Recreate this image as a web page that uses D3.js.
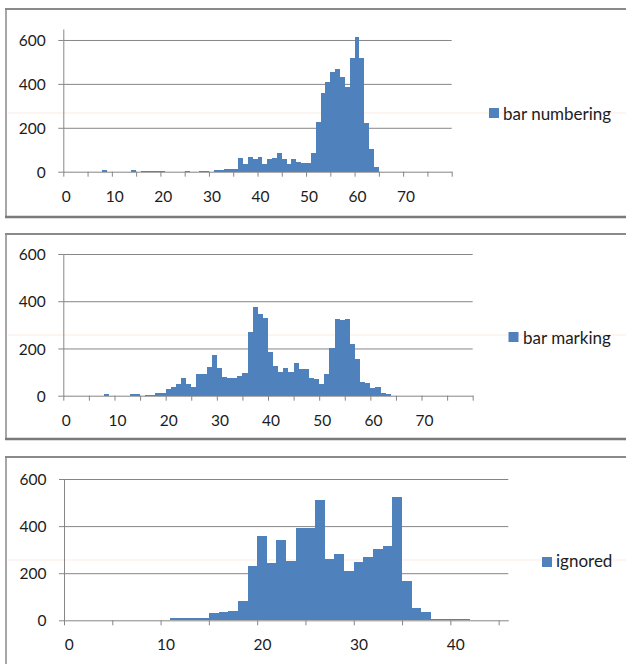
<!DOCTYPE html>
<html>
<head>
<meta charset="utf-8">
<script src="https://cdn.jsdelivr.net/npm/d3@7/dist/d3.min.js"></script>
<style>
  body { margin: 0; background: #fff; }
  svg { display: block; }
  text { font-family: Lato, "Open Sans", sans-serif; fill: #1c1c1c; }
</style>
</head>
<body>
<script>
// Histogram counts per bin (bin index = position on the category axis)
const numberingCounts = [
  0, 0, 0, 0, 0, 0, 0, 0, 7, 0,
  0, 0, 0, 0, 6, 0, 5, 5, 5, 5,
  5, 0, 0, 0, 0, 5, 0, 0, 5, 5,
  0, 8, 8, 12, 12, 12, 61, 35, 68, 56,
  68, 35, 56, 64, 84, 56, 33, 56, 43, 38,
  38, 87, 225, 360, 410, 456, 466, 433, 384, 516,
  615, 516, 220, 102, 23, 0, 0, 0, 0, 0,
  0, 0, 0, 0, 0, 0, 0, 0, 0, 0
];
const markingCounts = [
  0, 0, 0, 0, 0, 0, 0, 0, 7, 0,
  0, 0, 0, 6, 6, 0, 5, 5, 10, 11,
  28, 38, 51, 73, 51, 38, 90, 90, 121, 172,
  119, 78, 73, 75, 85, 96, 270, 377, 344, 327,
  185, 127, 100, 116, 99, 138, 113, 113, 76, 70,
  48, 90, 203, 323, 320, 323, 219, 155, 59, 54,
  34, 38, 10, 8, 0, 0, 0, 0, 0, 0,
  0, 0, 0, 0, 0, 0, 0, 0, 0, 0
];
const ignoredCounts = [
  0, 0, 0, 0, 0, 0, 0, 0, 0, 0,
  0, 8, 8, 8, 11, 30, 34, 38, 82, 232,
  357, 245, 342, 252, 394, 394, 512, 261, 282, 211,
  246, 268, 303, 317, 522, 166, 52, 34, 7, 4,
  4, 4, 0, 0, 0, 0
];
const seriesNames = ["bar numbering", "bar marking", "ignored"];
const yTickValues = [0, 200, 400, 600];
const yAxisMax = [650, 600, 600];

const W = 626, H = 664;
const barColor = "#4f81bd";
const axisColor = "#868686";

const svg = d3.select("body").append("svg")
  .attr("width", W).attr("height", H);
svg.append("rect").attr("width", W).attr("height", H).attr("fill", "#fff");

// Layout of each chart window
const layouts = [
  { left: 63.3, right: 451.7, base: 171.7, top: 29,  frameTop: 9,   frameBottom: 217,
    legend: { x: 489, y: 108, tx: 503, ty: 119.5 }, band: 113 },
  { left: 63.3, right: 472.7, base: 395.7, top: 254, frameTop: 234, frameBottom: 439,
    legend: { x: 508.5, y: 332, tx: 523, ty: 343.5 }, band: 335 },
  { left: 64,   right: 508.3, base: 620.3, top: 479, frameTop: 457, frameBottom: null,
    legend: { x: 542, y: 557, tx: 556, ty: 566.5 }, band: 560 }
];
const seriesCounts = [numberingCounts, markingCounts, ignoredCounts];

layouts.forEach((L, idx) => {
  const counts = seriesCounts[idx];
  const n = counts.length;
  const g = svg.append("g");

  // window frame
  g.append("line").attr("x1", 5).attr("x2", W).attr("y1", L.frameTop).attr("y2", L.frameTop)
    .attr("stroke", "#8a8a8a").attr("stroke-width", 2);
  g.append("line").attr("x1", 6).attr("x2", 6).attr("y1", L.frameTop)
    .attr("y2", L.frameBottom === null ? H : L.frameBottom)
    .attr("stroke", "#8a8a8a").attr("stroke-width", 1.5);
  if (L.frameBottom !== null) {
    g.append("line").attr("x1", 5).attr("x2", W).attr("y1", L.frameBottom).attr("y2", L.frameBottom)
      .attr("stroke", "#7a7a7a").attr("stroke-width", 2.5);
  }

  // very faint highlight band across the window
  g.append("line").attr("x1", 8).attr("x2", W).attr("y1", L.band).attr("y2", L.band)
    .attr("stroke", "#fdf5f2").attr("stroke-width", 2);

  const y = d3.scaleLinear().domain([0, yAxisMax[idx]]).range([L.base, L.top]);
  const xBand = d3.scaleBand().domain(d3.range(n)).range([L.left, L.right]).padding(0);
  const xLin = d3.scaleLinear().domain([0, n]).range([L.left, L.right]);

  // horizontal gridlines
  g.append("g")
    .attr("transform", `translate(${L.left},0)`)
    .call(d3.axisLeft(y).tickValues(yTickValues.filter(v => v > 0))
      .tickSize(-(L.right - L.left)).tickFormat(""))
    .call(a => a.select(".domain").remove())
    .call(a => a.selectAll("line").attr("stroke", axisColor).attr("stroke-width", 1));

  // bars, snapped to whole pixels so neighbouring bins join without seams
  const x0 = i => Math.round(xBand(i));
  const x1 = i => Math.round(xBand(i) + xBand.bandwidth());
  g.append("g").attr("shape-rendering", "crispEdges").selectAll("rect")
    .data(counts.map((v, i) => ({ i, v })).filter(d => d.v > 0))
    .join("rect")
    .attr("x", d => x0(d.i))
    .attr("width", d => x1(d.i) - x0(d.i))
    .attr("y", d => Math.round(y(d.v)))
    .attr("height", d => Math.round(y(0)) - Math.round(y(d.v)))
    .attr("fill", barColor);

  // y axis with tick labels
  g.append("g")
    .attr("transform", `translate(${L.left},0)`)
    .call(d3.axisLeft(y).tickValues(yTickValues).tickSize(5).tickSizeOuter(0))
    .call(a => a.select(".domain").attr("stroke", axisColor))
    .call(a => a.selectAll(".tick line").attr("stroke", axisColor))
    .call(a => a.selectAll("text")
      .attr("x", -17.5).attr("dy", "0.36em")
      .style("font-size", "15.5px").style("font-family", "Lato, sans-serif").attr("fill", "#1c1c1c"));

  // x axis: tick marks on bin boundaries every 5 bins
  const tickBounds = d3.range(0, n + 1, 5);
  g.append("g")
    .attr("transform", `translate(0,${L.base})`)
    .call(d3.axisBottom(xLin).tickValues(tickBounds).tickSize(5).tickSizeOuter(0).tickFormat(""))
    .call(a => a.select(".domain").attr("stroke", axisColor))
    .call(a => a.selectAll(".tick line").attr("stroke", axisColor));

  // x labels centred on every 10th bin
  const labelBins = d3.range(0, n, 10);
  g.append("g")
    .attr("transform", `translate(0,${L.base})`)
    .call(d3.axisBottom(xLin).tickValues(labelBins.map(b => b + 0.5)).tickSize(0)
      .tickFormat(d => String(Math.round(d - 0.5))))
    .call(a => a.select(".domain").remove())
    .call(a => a.selectAll("text")
      .attr("y", 30).attr("dy", null)
      .style("font-size", "15.5px").style("font-family", "Lato, sans-serif").attr("fill", "#1c1c1c"));

  // legend
  g.append("rect").attr("x", L.legend.x).attr("y", L.legend.y)
    .attr("width", 10).attr("height", 10).attr("fill", barColor);
  g.append("text").attr("x", L.legend.tx).attr("y", L.legend.ty)
    .style("font-size", "17px").text(seriesNames[idx]);
});
</script>
</body>
</html>
